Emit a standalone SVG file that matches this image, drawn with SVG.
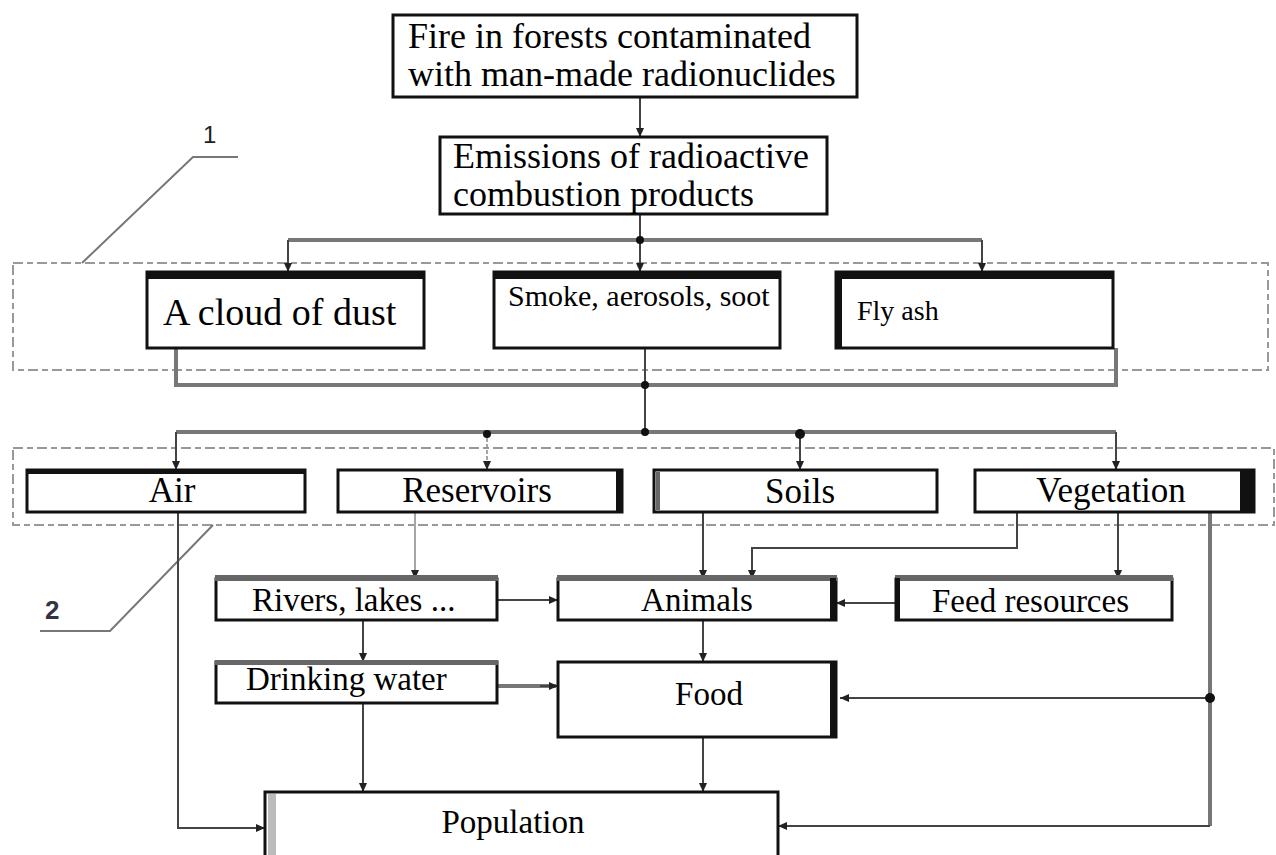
<svg xmlns="http://www.w3.org/2000/svg" width="1276" height="855" viewBox="0 0 1276 855">
<defs>
<marker id="ah" markerWidth="10" markerHeight="10" refX="9" refY="5" orient="auto" markerUnits="userSpaceOnUse">
<path d="M0,1 L9,5 L0,9 z" fill="#222"/>
</marker>
<style>
.box{fill:#fff;stroke:#111;stroke-width:3}
.bar{fill:#111}
.gbar{fill:#666}
.c{fill:none;stroke:#444;stroke-width:2}
.cg{fill:none;stroke:#777;stroke-width:4}
.cl{fill:none;stroke:#888;stroke-width:1.5}
.dash{fill:none;stroke:#999;stroke-width:2;stroke-dasharray:10,4,6,4}
.dot{fill:#111}
</style>
</defs>
<rect width="1276" height="855" fill="#fff"/>

<g id="region1">
<rect class="dash" x="13" y="263" width="1255" height="107"/>
<path d="M82,263 L193,157 H238" fill="none" stroke="#777" stroke-width="2"/>
<text x="203" y="143" font-size="24" font-family="Liberation Sans, Arial, sans-serif" fill="#222">1</text>
</g>
<g id="region2">
<rect class="dash" x="13" y="448" width="1261" height="77"/>
<path d="M40,631 H110 L213,525" fill="none" stroke="#777" stroke-width="2"/>
<text x="45" y="619" font-size="26" font-weight="bold" font-family="Liberation Sans, Arial, sans-serif" fill="#334">2</text>
</g>

<g id="connectors">
<path class="c" d="M640,97 V137" marker-end="url(#ah)"/>
<path class="c" d="M640,214 V240"/>
<path class="cg" d="M288,240 H982"/>
<path class="c" d="M288,240 V272" marker-end="url(#ah)"/>
<path class="c" d="M640,240 V272" marker-end="url(#ah)"/>
<path class="c" d="M982,240 V272" marker-end="url(#ah)"/>
<path class="cg" d="M176,348 V385 H1116 V348" stroke-width="3"/>
<path class="c" d="M645,348 V432" stroke-width="3"/>
<path class="cg" d="M176,432 H1116" stroke-width="5"/>
<path class="c" d="M176,432 V470" marker-end="url(#ah)"/>
<path class="cl" d="M487,432 V470" stroke-dasharray="4,2" marker-end="url(#ah)"/>
<path class="c" d="M800,432 V470" stroke-width="4" marker-end="url(#ah)"/>
<path class="c" d="M1116,432 V470" marker-end="url(#ah)"/>
<path class="c" d="M178,512 V828 H265" marker-end="url(#ah)"/>
<path class="cl" d="M415,512 V579" marker-end="url(#ah)"/>
<path class="c" d="M703,512 V579" marker-end="url(#ah)"/>
<path class="c" d="M1017,512 V548 H752 V579" stroke-width="1.5" marker-end="url(#ah)"/>
<path class="c" d="M1118,512 V579" marker-end="url(#ah)"/>
<path class="cg" d="M1210,512 V826" stroke="#999" stroke-width="6"/>
<path class="c" d="M1210,826 H778" stroke-width="3" marker-end="url(#ah)"/>
<path class="c" d="M1210,698 H840" stroke-width="3" stroke="#666" marker-end="url(#ah)"/>
<path class="c" d="M497,600 H558" marker-end="url(#ah)"/>
<path class="c" d="M896,603 H836" marker-end="url(#ah)"/>
<path class="c" d="M363,620 V662" marker-end="url(#ah)"/>
<path class="c" d="M703,620 V662" marker-end="url(#ah)"/>
<path class="cg" d="M497,686 H556" stroke-width="5"/>
<path class="c" d="M540,686 H558" marker-end="url(#ah)"/>
<path class="c" d="M363,703 V792" stroke-width="3" marker-end="url(#ah)"/>
<path class="c" d="M703,737 V792" marker-end="url(#ah)"/>
<circle class="dot" cx="640" cy="240" r="4"/>
<circle class="dot" cx="645" cy="385" r="4"/>
<circle class="dot" cx="645" cy="432" r="4"/>
<circle class="dot" cx="487" cy="434" r="4"/>
<circle class="dot" cx="800" cy="434" r="5"/>
<circle class="dot" cx="1210" cy="698" r="5"/>
</g>

<g font-family="Liberation Serif, Times New Roman, serif" fill="#000">
<g id="fire">
<rect class="box" x="393" y="15" width="464" height="82"/>
<text x="408" y="48" font-size="36">Fire in forests contaminated</text>
<text x="408" y="86" font-size="36">with man-made radionuclides</text>
</g>
<g id="emissions">
<rect class="box" x="440" y="137" width="387" height="77"/>
<text x="453" y="168" font-size="36">Emissions of radioactive</text>
<text x="453" y="206" font-size="36">combustion products</text>
</g>

<g id="cloud">
<rect class="box" x="147" y="272" width="277" height="76"/>
<rect class="bar" x="146" y="271" width="279" height="8"/>
<text x="163" y="325" font-size="38">A cloud of dust</text>
</g>
<g id="smoke">
<rect class="box" x="494" y="272" width="286" height="76"/>
<rect class="bar" x="493" y="271" width="288" height="8"/>
<text x="508" y="306" font-size="30">Smoke, aerosols, soot</text>
</g>
<g id="flyash">
<rect class="box" x="836" y="272" width="277" height="76"/>
<rect class="bar" x="835" y="271" width="279" height="8"/>
<rect class="bar" x="835" y="271" width="7" height="78"/>
<text x="857" y="320" font-size="28">Fly ash</text>
</g>

<g id="air">
<rect class="box" x="27" y="470" width="278" height="42"/>
<rect class="bar" x="26" y="469" width="280" height="5"/>
<text x="172" y="502" font-size="35" text-anchor="middle">Air</text>
</g>
<g id="reservoirs">
<rect class="box" x="338" y="470" width="284" height="42"/>
<rect class="bar" x="616" y="469" width="6" height="44"/>
<text x="477" y="502" font-size="35" text-anchor="middle">Reservoirs</text>
</g>
<g id="soils">
<rect class="box" x="654" y="470" width="283" height="42"/>
<rect class="gbar" x="656" y="472" width="4" height="38"/>
<text x="800" y="503" font-size="35" text-anchor="middle">Soils</text>
</g>
<g id="vegetation">
<rect class="box" x="975" y="470" width="279" height="42"/>
<rect class="bar" x="1240" y="469" width="14" height="44"/>
<text x="1111" y="502" font-size="35" text-anchor="middle">Vegetation</text>
</g>

<g id="rivers">
<rect class="box" x="216" y="579" width="281" height="41"/>
<rect class="gbar" x="215" y="575" width="283" height="6"/>
<text x="252" y="611" font-size="33">Rivers, lakes ...</text>
</g>
<g id="animals">
<rect class="box" x="558" y="579" width="278" height="41"/>
<rect class="gbar" x="557" y="575" width="280" height="6"/>
<rect class="bar" x="830" y="578" width="6" height="43"/>
<text x="697" y="611" font-size="33" text-anchor="middle">Animals</text>
</g>
<g id="feed">
<rect class="box" x="896" y="579" width="276" height="41"/>
<rect class="gbar" x="895" y="575" width="278" height="6"/>
<rect class="bar" x="895" y="578" width="5" height="43"/>
<text x="932" y="612" font-size="33">Feed resources</text>
</g>
<g id="drinking">
<rect class="box" x="216" y="662" width="281" height="41"/>
<rect class="gbar" x="215" y="660" width="283" height="5"/>
<text x="246" y="690" font-size="33">Drinking water</text>
</g>
<g id="food">
<rect class="box" x="558" y="662" width="278" height="75"/>
<rect class="bar" x="830" y="661" width="6" height="77"/>
<text x="709" y="705" font-size="33" text-anchor="middle">Food</text>
</g>
<g id="population">
<rect class="box" x="265" y="792" width="513" height="70"/>
<rect x="268" y="794" width="8" height="61" fill="#bbb"/>
<text x="513" y="833" font-size="33" text-anchor="middle">Population</text>
</g>
</g>
</svg>
